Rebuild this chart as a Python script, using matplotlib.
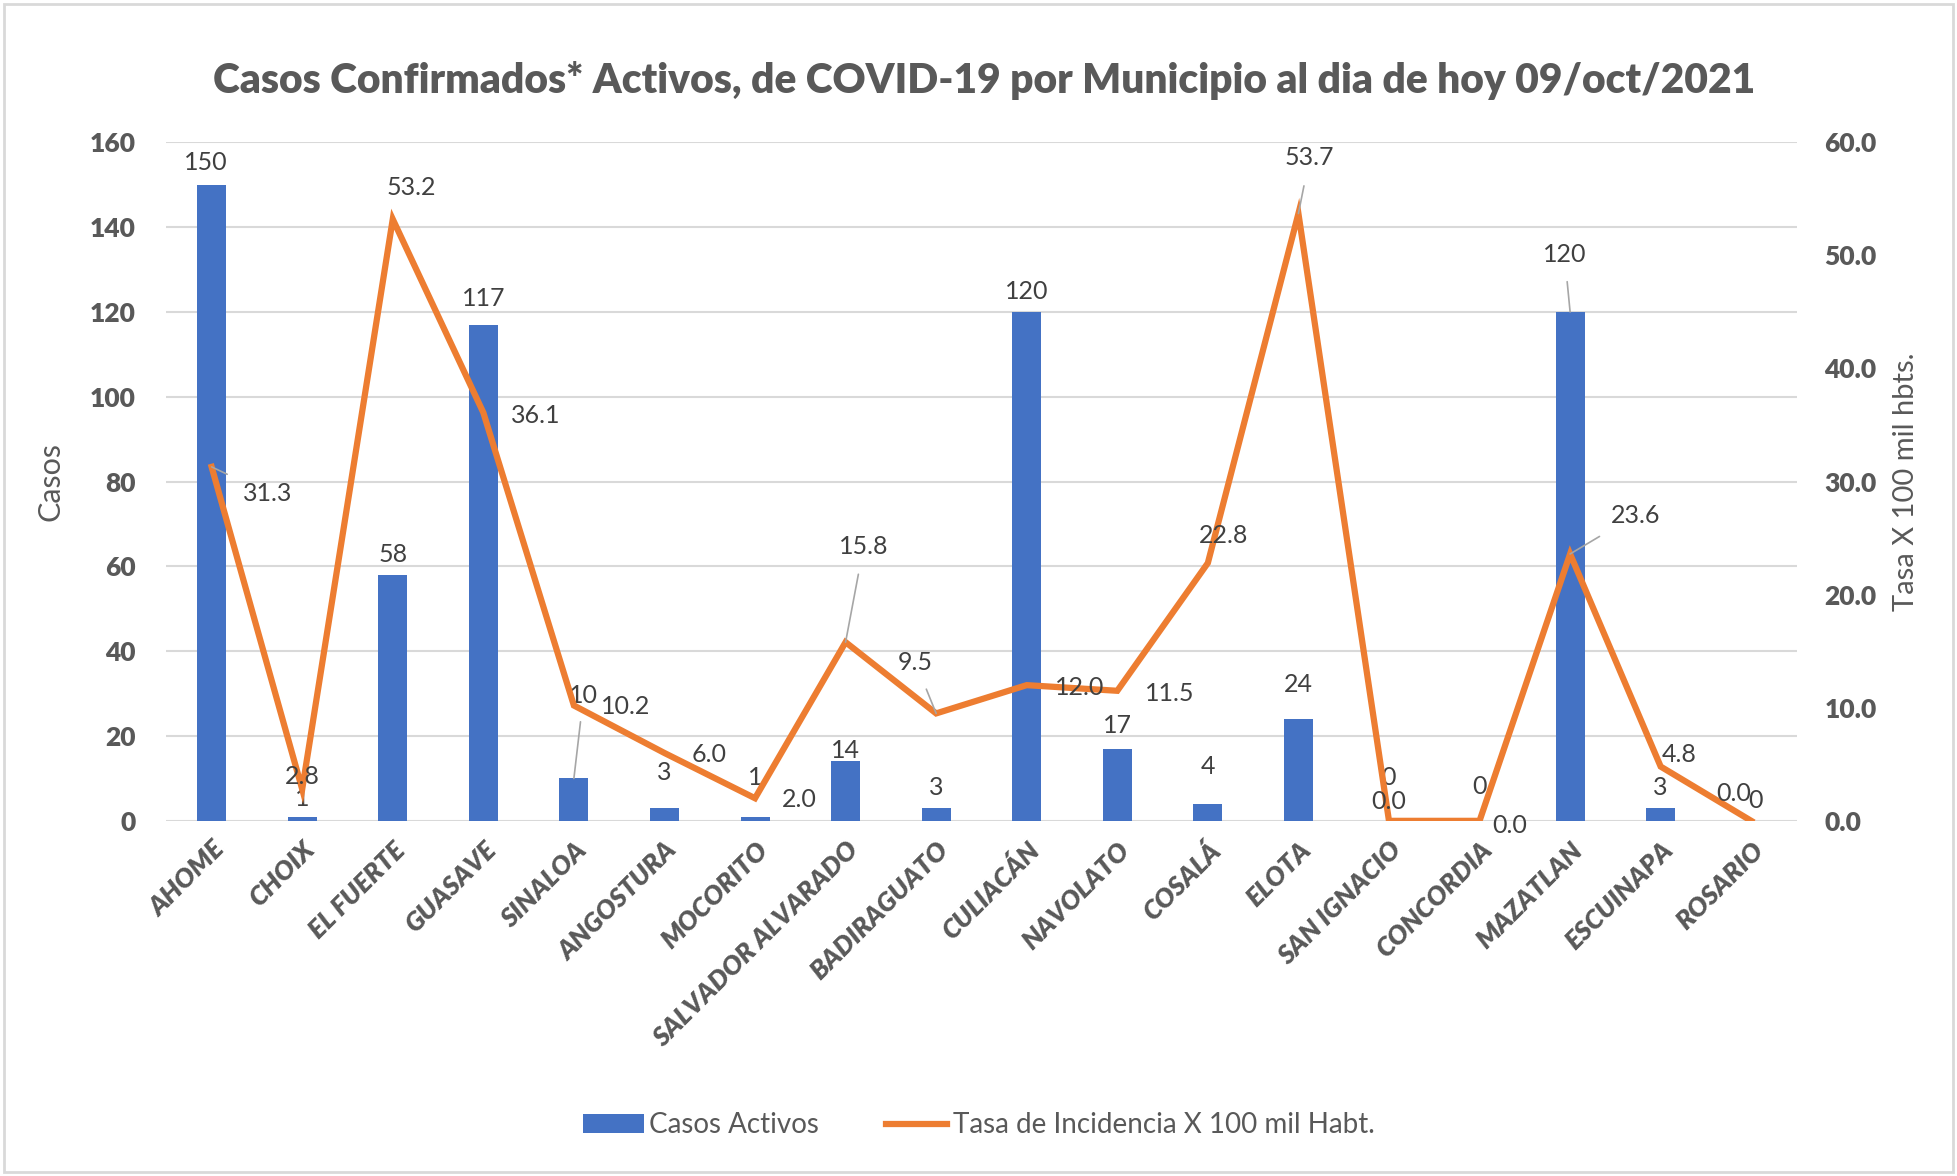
import numpy as np
import matplotlib.pyplot as plt
from matplotlib.patches import Rectangle

municipios = ['AHOME', 'CHOIX', 'EL FUERTE', 'GUASAVE', 'SINALOA', 'ANGOSTURA',
              'MOCORITO', 'SALVADOR ALVARADO', 'BADIRAGUATO', 'CULIACÁN', 'NAVOLATO',
              'COSALÁ', 'ELOTA', 'SAN IGNACIO', 'CONCORDIA', 'MAZATLAN', 'ESCUINAPA',
              'ROSARIO']
casos = [150, 1, 58, 117, 10, 3, 1, 14, 3, 120, 17, 4, 24, 0, 0, 120, 3, 0]
tasa = [31.3, 2.8, 53.2, 36.1, 10.2, 6.0, 2.0, 15.8, 9.5, 12.0, 11.5, 22.8,
        53.7, 0.0, 0.0, 23.6, 4.8, 0.0]

# label placement (offsets in points) - styling only
bar_off = [(-4, 16), (0, 13), (0, 15), (0, 19), (7, 60), (0, 26), (0, 28), (0, 8),
           (0, 15), (0, 15), (0, 17), (0, 27), (0, 25), (0, 31), (0, 25), (-4, 41),
           (0, 15), (3, 15)]
bar_leader = [4, 15]
line_off = [(40, -19), (0, 9), (13, 23), (38, -2), (37, -1), (32, -1), (32, -1),
            (13, 69), (-15, 37), (38, -2), (38, -2), (11, 20), (8, 40), (0, 14),
            (22, -3), (47, 28), (13, 9), (-13, 20)]
line_leader = [0, 7, 8, 12, 15]

blue = '#4472C4'
orange = '#ED7D31'
gray = '#595959'

plt.rcParams['font.family'] = ['Lato', 'DejaVu Sans']

fig = plt.figure(figsize=(19.57, 11.76), dpi=100)
ax = fig.add_axes([0.085, 0.302, 0.833, 0.577])
ax2 = ax.twinx()

x = np.arange(len(municipios))
ax.bar(x, casos, width=0.32, color=blue, zorder=2, label='Casos Activos')
ax2.plot(x, tasa, color=orange, lw=4.5, solid_joinstyle='miter', zorder=3,
         label='Tasa de Incidencia X 100 mil Habt.')

ax.set_xlim(-0.5, len(municipios) - 0.5)
ax.set_ylim(0, 160)
ax2.set_ylim(0, 60)
ax.set_yticks(np.arange(0, 161, 20))
ax2.set_yticks(np.arange(0, 61, 10))
ax2.set_yticklabels([f'{v:.1f}' for v in np.arange(0, 61, 10)])
ax.grid(axis='y', color='#D9D9D9', lw=1.5, zorder=0)
ax.set_axisbelow(True)

for a in (ax, ax2):
    for s in a.spines.values():
        s.set_visible(False)
    a.tick_params(length=0, colors=gray, labelsize=19)
    for t in a.get_yticklabels():
        t.set_fontweight('heavy')
ax.tick_params(axis='y', pad=22)
ax2.tick_params(axis='y', pad=20)

ax.set_xticks(x)
ax.set_xticklabels(municipios, rotation=45, ha='right', rotation_mode='anchor',
                   fontsize=19, fontweight='heavy', fontstyle='italic', color=gray)
ax.tick_params(axis='x', pad=12)

ax.set_ylabel('Casos', fontsize=22, color=gray, labelpad=18)
ax2.set_ylabel('Tasa X 100 mil hbts.', fontsize=21, color=gray, labelpad=12)

for i, v in enumerate(casos):
    kw = {}
    if i in bar_leader:
        kw['arrowprops'] = dict(arrowstyle='-', color='#A6A6A6', lw=1.2,
                                shrinkA=9, shrinkB=0)
    ax.annotate(str(v), (x[i], v), xytext=bar_off[i], textcoords='offset points',
                ha='center', va='center', fontsize=18, color='#404040', **kw)

for i, v in enumerate(tasa):
    kw = {}
    if i in line_leader:
        kw['arrowprops'] = dict(arrowstyle='-', color='#A6A6A6', lw=1.2,
                                shrinkA=10, shrinkB=0)
    ax2.annotate(f'{v:.1f}', (x[i], v), xytext=line_off[i], textcoords='offset points',
                 ha='center', va='center', fontsize=18, color='#404040', zorder=4, **kw)

fig.suptitle('Casos Confirmados* Activos, de COVID-19 por Municipio al dia de hoy 09/oct/2021',
             x=0.503, y=0.948, fontsize=29.3, fontweight='heavy', color=gray)

h1, l1 = ax.get_legend_handles_labels()
h2, l2 = ax2.get_legend_handles_labels()
fig.legend(h1 + h2, l1 + l2, loc='center', bbox_to_anchor=(0.5, 0.043), ncol=2,
           frameon=False, labelcolor=gray, handlelength=2.2,
           handletextpad=0.2, columnspacing=2.4, prop={'size': 20})

fig.patches.append(Rectangle((0.002, 0.003), 0.996, 0.994, transform=fig.transFigure,
                             fill=False, edgecolor='#D9D9D9', lw=2))

fig.savefig('out.png', dpi=100)
